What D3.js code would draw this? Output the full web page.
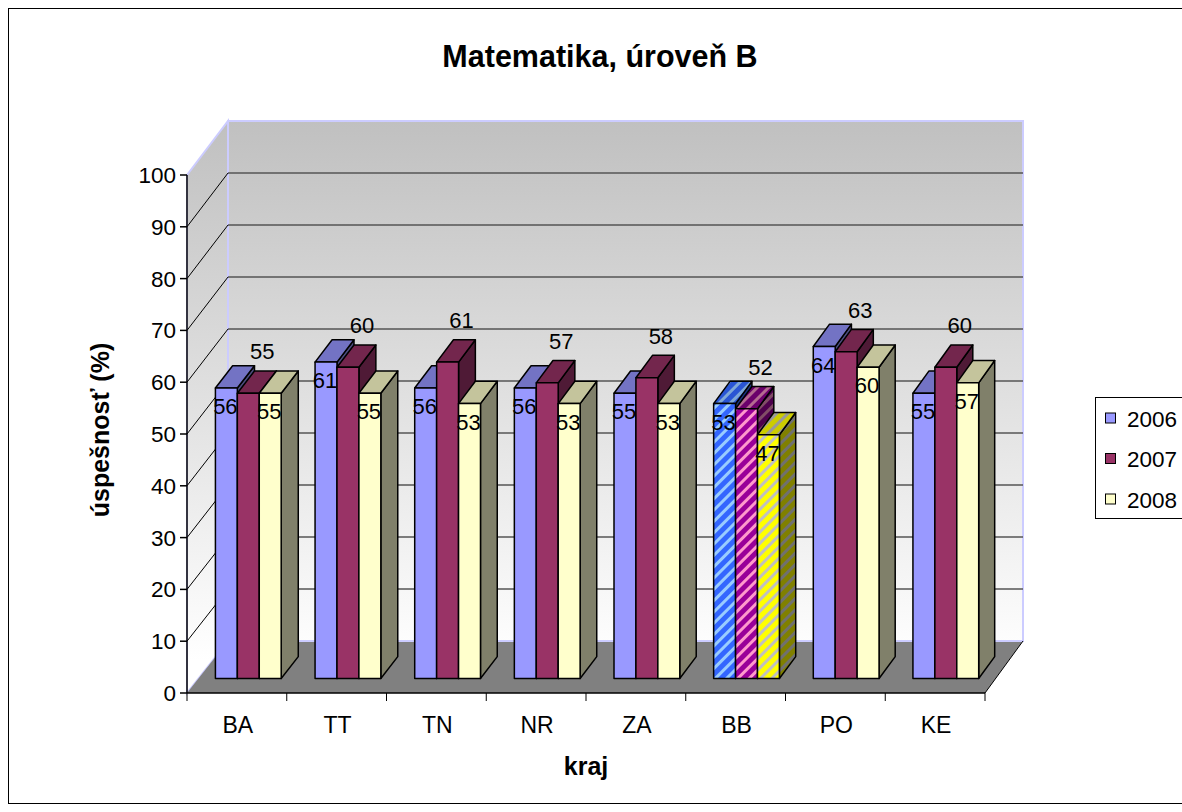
<!DOCTYPE html>
<html>
<head>
<meta charset="utf-8">
<title>Matematika, úroveň B</title>
<script src="https://d3js.org/d3.v7.min.js"></script>
<style>
body { margin: 0; background: #fff; }
text { font-family: "Liberation Sans", Arial, sans-serif; fill: #000; }
</style>
</head>
<body>
<div class="chart"></div>
<script>
// data
var categories = ["BA", "TT", "TN", "NR", "ZA", "BB", "PO", "KE"];
var years = ["2006", "2007", "2008"];
var values2006 = [56, 61, 56, 56, 55, 53, 64, 55];
var values2007 = [55, 60, 61, 57, 58, 52, 63, 60];
var values2008 = [55, 55, 53, 53, 53, 47, 60, 57];
var yTicks = [0, 10, 20, 30, 40, 50, 60, 70, 80, 90, 100];
var highlighted = "BB";

var series = [values2006, values2007, values2008];
var colors = {
  "2006": {front: "#9999ff", top: "#7373c4", side: "#4d4d80"},
  "2007": {front: "#993366", top: "#73264d", side: "#4f1a36"},
  "2008": {front: "#ffffcc", top: "#c4c49c", side: "#80806a"}
};
// patterned versions for the highlighted region
var patterns = {
  "2006": {front: ["#3366ff", "#99ccff"], top: ["#2a55d4", "#7fa8d8"], side: ["#1a3380", "#4d6680"]},
  "2007": {front: ["#990099", "#ff99cc"], top: ["#6b006b", "#b36b8f"], side: ["#4d004d", "#804d66"]},
  "2008": {front: ["#ffff00", "#c0c0c0"], top: ["#cccc00", "#9a9a9a"], side: ["#808000", "#707070"]}
};

var W = 1182, H = 812;
var svg = d3.select(".chart").append("svg")
    .attr("width", W)
    .attr("height", H);

// front plane and back plane of the 3D box
var xFront = d3.scaleLinear().domain([0, categories.length]).range([187, 985]);
var xBack = d3.scaleLinear().domain([0, categories.length]).range([228, 1023]);
var yFront = d3.scaleLinear().domain([0, 100]).range([693, 175]);
var yBack = d3.scaleLinear().domain([0, 100]).range([641, 121]);

var catIndex = d3.scaleBand().domain(categories).range([0, categories.length])
    .paddingInner(0.34).paddingOuter(0.17);
var yearBand = d3.scaleBand().domain(years).range([0, catIndex.bandwidth()]);

var d0 = 0.28, d1 = 0.70; // bar depth range

function proj(u, v, d) {
  return [xFront(u) * (1 - d) + xBack(u) * d, yFront(v) * (1 - d) + yBack(v) * d];
}
function poly(pts) {
  return pts.map(function(p) { return p[0].toFixed(2) + "," + p[1].toFixed(2); }).join(" ");
}

var defs = svg.append("defs");
var grad = defs.append("linearGradient")
    .attr("id", "wallGrad")
    .attr("gradientUnits", "userSpaceOnUse")
    .attr("x1", 0).attr("y1", 121).attr("x2", 0).attr("y2", 660);
grad.append("stop").attr("offset", "0").attr("stop-color", "#c0c0c0");
grad.append("stop").attr("offset", "1").attr("stop-color", "#ffffff");

Object.keys(patterns).forEach(function(y) {
  Object.keys(patterns[y]).forEach(function(face) {
    var p = defs.append("pattern")
        .attr("id", "pat" + y + face)
        .attr("patternUnits", "userSpaceOnUse")
        .attr("width", 8).attr("height", 8)
        .attr("patternTransform", "rotate(45)");
    p.append("rect").attr("width", 8).attr("height", 8).attr("fill", patterns[y][face][0]);
    p.append("rect").attr("width", 3).attr("height", 8).attr("fill", patterns[y][face][1]);
  });
});

// chart border
svg.append("rect")
    .attr("x", 8.5).attr("y", 8.5)
    .attr("width", 1200).attr("height", 795)
    .attr("fill", "#fff").attr("stroke", "#000").attr("stroke-width", 1);

var n = categories.length;

// back wall
svg.append("polygon")
    .attr("points", poly([proj(0, 0, 1), proj(n, 0, 1), proj(n, 100, 1), proj(0, 100, 1)]))
    .attr("fill", "url(#wallGrad)")
    .attr("stroke", "#ccccff").attr("stroke-width", 2);

// side wall
svg.append("polygon")
    .attr("points", poly([proj(0, 0, 0), proj(0, 0, 1), proj(0, 100, 1), proj(0, 100, 0)]))
    .attr("fill", "url(#wallGrad)")
    .attr("stroke", "#ccccff").attr("stroke-width", 2);

// gridlines on the back wall and the side wall
svg.selectAll(".grid")
  .data(yTicks.filter(function(t) { return t > 0 && t < 100; }))
  .enter().append("line")
    .attr("class", "grid")
    .attr("x1", function(t) { return proj(0, t, 1)[0]; })
    .attr("y1", function(t) { return proj(0, t, 1)[1]; })
    .attr("x2", function(t) { return proj(n, t, 1)[0]; })
    .attr("y2", function(t) { return proj(n, t, 1)[1]; })
    .attr("stroke", "#555").attr("stroke-width", 1.5);

svg.selectAll(".sidegrid")
  .data(yTicks.filter(function(t) { return t > 0 && t < 100; }))
  .enter().append("line")
    .attr("class", "sidegrid")
    .attr("x1", function(t) { return proj(0, t, 0)[0]; })
    .attr("y1", function(t) { return proj(0, t, 0)[1]; })
    .attr("x2", function(t) { return proj(0, t, 1)[0]; })
    .attr("y2", function(t) { return proj(0, t, 1)[1]; })
    .attr("stroke", "#000").attr("stroke-width", 1);

// floor
svg.append("polygon")
    .attr("points", poly([proj(0, 0, 0), proj(0, 0, 1), proj(n, 0, 1), proj(n, 0, 0)]))
    .attr("fill", "#808080");
svg.append("line")
    .attr("x1", proj(0, 0, 1)[0]).attr("y1", proj(0, 0, 1)[1])
    .attr("x2", proj(n, 0, 1)[0]).attr("y2", proj(n, 0, 1)[1])
    .attr("stroke", "#ccccff").attr("stroke-width", 2);
svg.append("line")
    .attr("x1", proj(n, 0, 0)[0]).attr("y1", proj(n, 0, 0)[1])
    .attr("x2", proj(n, 0, 1)[0]).attr("y2", proj(n, 0, 1)[1])
    .attr("stroke", "#000").attr("stroke-width", 1);

// bars
var bars = [];
categories.forEach(function(c, i) {
  years.forEach(function(y, j) {
    var u0 = catIndex(c) + yearBand(y);
    bars.push({cat: c, year: y, value: series[j][i], u0: u0, u1: u0 + yearBand.bandwidth()});
  });
});

function faceFill(d, face) {
  if (d.cat === highlighted) return "url(#pat" + d.year + face + ")";
  return colors[d.year][face];
}

var barG = svg.selectAll(".bar")
  .data(bars)
  .enter().append("g")
    .attr("class", "bar");

barG.append("polygon")
    .attr("points", function(d) {
      return poly([proj(d.u1, 0, d0), proj(d.u1, 0, d1), proj(d.u1, d.value, d1), proj(d.u1, d.value, d0)]);
    })
    .attr("fill", function(d) { return faceFill(d, "side"); });
barG.append("polygon")
    .attr("points", function(d) {
      return poly([proj(d.u0, d.value, d0), proj(d.u1, d.value, d0), proj(d.u1, d.value, d1), proj(d.u0, d.value, d1)]);
    })
    .attr("fill", function(d) { return faceFill(d, "top"); });
barG.append("polygon")
    .attr("points", function(d) {
      return poly([proj(d.u0, 0, d0), proj(d.u1, 0, d0), proj(d.u1, d.value, d0), proj(d.u0, d.value, d0)]);
    })
    .attr("fill", function(d) { return faceFill(d, "front"); });
barG.selectAll("polygon")
    .attr("stroke", "#000").attr("stroke-width", 1.5).attr("stroke-linejoin", "round");

// value labels
svg.selectAll(".vlabel")
  .data(bars)
  .enter().append("text")
    .attr("class", "vlabel")
    .attr("text-anchor", "middle")
    .attr("font-size", 22)
    .attr("x", function(d) {
      var cx = proj((d.u0 + d.u1) / 2, d.value, d0)[0];
      return d.year === "2007" ? cx + 14 : cx - 1;
    })
    .attr("y", function(d) {
      var top = proj(d.u0, d.value, d0)[1];
      return d.year === "2007" ? top - 42 + 8 : top + 18 + 8;
    })
    .text(function(d) { return d.value; });

// y axis
svg.append("line")
    .attr("x1", proj(0, 0, 0)[0]).attr("y1", proj(0, 0, 0)[1])
    .attr("x2", proj(0, 100, 0)[0]).attr("y2", proj(0, 100, 0)[1])
    .attr("stroke", "#000").attr("stroke-width", 1.5);
svg.selectAll(".ytick")
  .data(yTicks)
  .enter().append("line")
    .attr("x1", xFront(0) - 7).attr("x2", xFront(0))
    .attr("y1", function(t) { return yFront(t); })
    .attr("y2", function(t) { return yFront(t); })
    .attr("stroke", "#000").attr("stroke-width", 1.5);
svg.selectAll(".ylabel")
  .data(yTicks)
  .enter().append("text")
    .attr("text-anchor", "end")
    .attr("font-size", 22.5)
    .attr("x", xFront(0) - 11)
    .attr("y", function(t) { return yFront(t) + 8; })
    .text(function(t) { return t; });

// x axis
svg.append("line")
    .attr("x1", xFront(0)).attr("y1", yFront(0))
    .attr("x2", xFront(n)).attr("y2", yFront(0))
    .attr("stroke", "#000").attr("stroke-width", 1.5);
svg.selectAll(".xtick")
  .data(d3.range(n + 1))
  .enter().append("line")
    .attr("x1", function(k) { return xFront(k); })
    .attr("x2", function(k) { return xFront(k); })
    .attr("y1", yFront(0)).attr("y2", yFront(0) + 8)
    .attr("stroke", "#000").attr("stroke-width", 1);
svg.selectAll(".xlabel")
  .data(categories)
  .enter().append("text")
    .attr("text-anchor", "middle")
    .attr("font-size", 23)
    .attr("x", function(c, i) { return xFront(i + 0.5) + 1; })
    .attr("y", 733)
    .text(function(c) { return c; });

// titles
svg.append("text")
    .attr("x", 600).attr("y", 67)
    .attr("text-anchor", "middle")
    .attr("font-size", 30.5).attr("font-weight", "bold")
    .text("Matematika, úroveň B");
svg.append("text")
    .attr("x", 586).attr("y", 775)
    .attr("text-anchor", "middle")
    .attr("font-size", 25).attr("font-weight", "bold")
    .text("kraj");
svg.append("text")
    .attr("transform", "translate(109,430) rotate(-90)")
    .attr("text-anchor", "middle")
    .attr("font-size", 25).attr("font-weight", "bold")
    .text("úspešnosť (%)");

// legend
var legend = svg.append("g").attr("transform", "translate(1095,397)");
legend.append("rect")
    .attr("x", 0.5).attr("y", 0.5)
    .attr("width", 120).attr("height", 121)
    .attr("fill", "#fff").attr("stroke", "#000").attr("stroke-width", 1);
var li = legend.selectAll(".li")
  .data(years)
  .enter().append("g")
    .attr("transform", function(y, i) { return "translate(0," + (21 + i * 40.5) + ")"; });
li.append("rect")
    .attr("x", 10.5).attr("y", -5)
    .attr("width", 10).attr("height", 10)
    .attr("fill", function(y) { return colors[y].front; })
    .attr("stroke", "#000").attr("stroke-width", 1);
li.append("text")
    .attr("x", 32).attr("y", 8.5)
    .attr("font-size", 22.5)
    .text(function(y) { return y; });
</script>
</body>
</html>
